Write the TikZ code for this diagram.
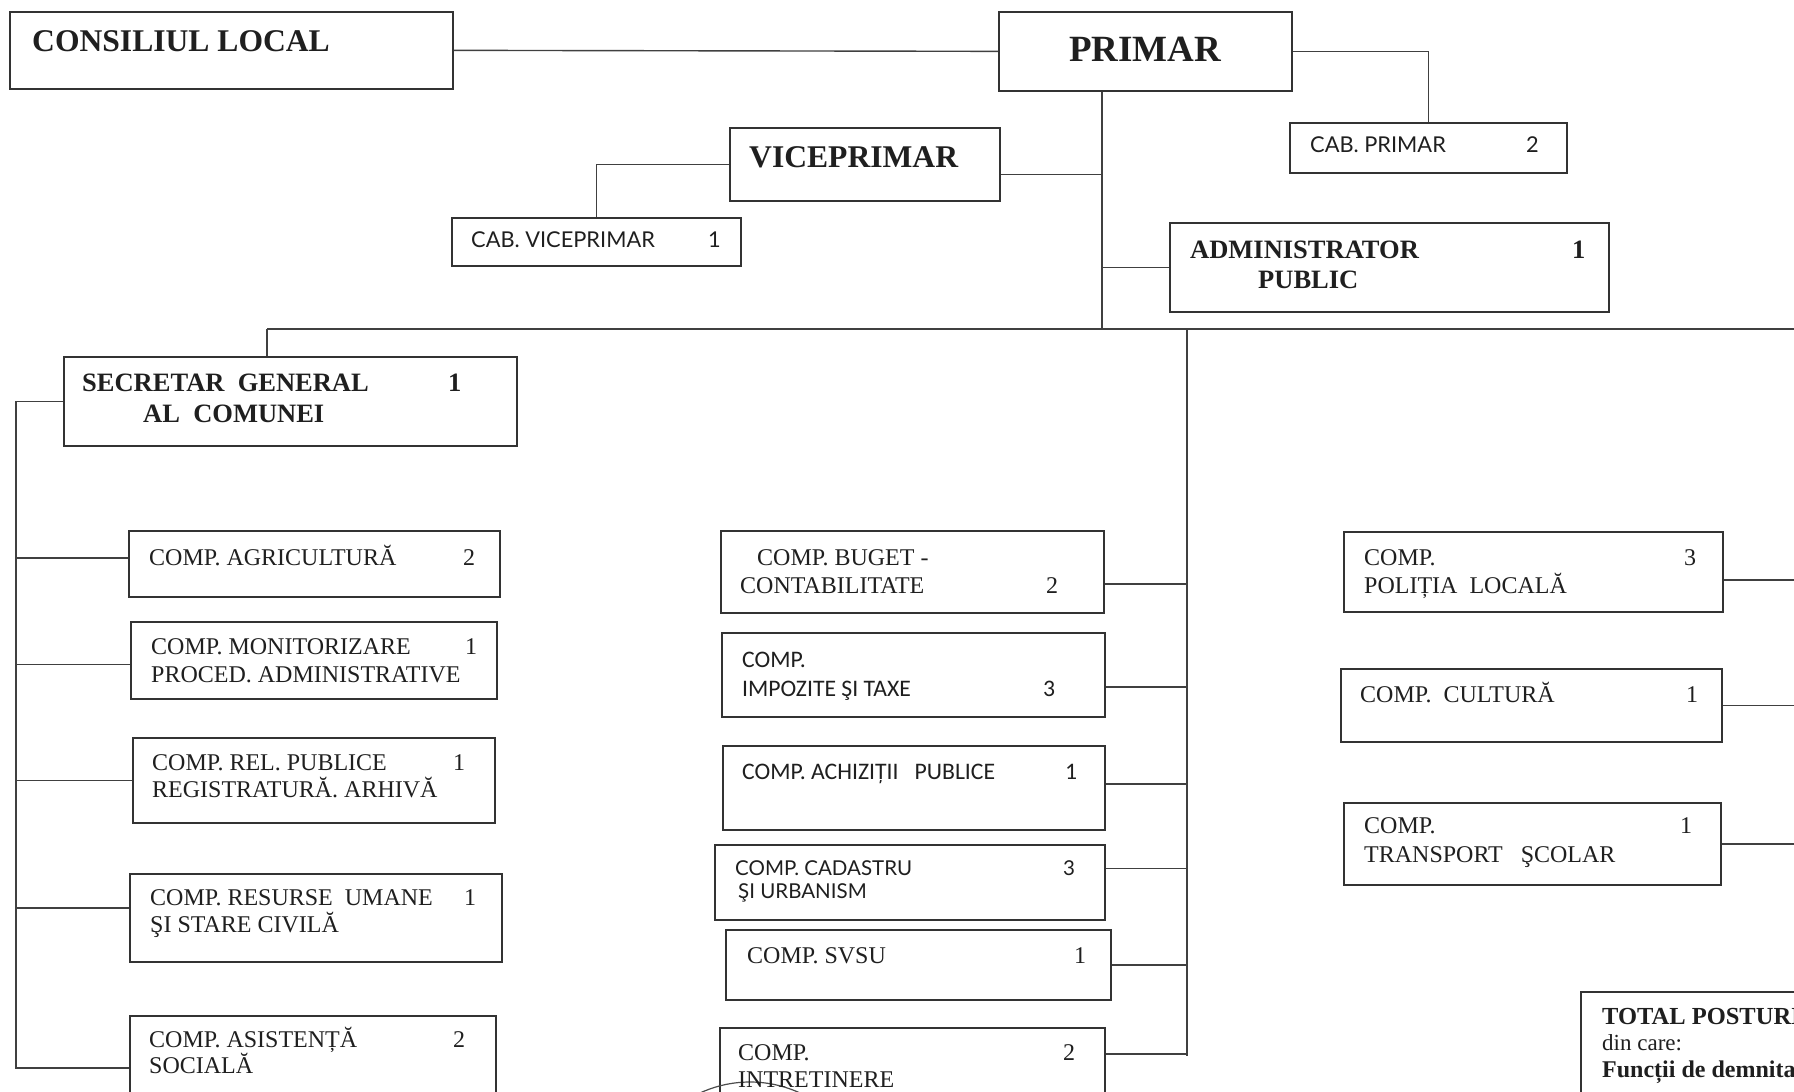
\documentclass[tikz,border=0pt]{standalone}
\usepackage{fontspec}
\setmainfont{Liberation Serif}
\newfontfamily\cabfont{Lato}
\newfontfamily\calfont{Carlito}
\begin{document}
\begin{tikzpicture}[x=1pt,y=-1pt]
\tikzset{
 box/.style={draw=black!80, line width=1.7pt, inner sep=0pt, anchor=north west},
 conn/.style={draw=black!75, line width=1.4pt},
 txt/.style={anchor=base west, inner sep=0pt, text=black!88},
 big/.style={font=\bfseries\fontsize{31.6}{31.6}\selectfont},
 huge/.style={font=\bfseries\fontsize{37}{37}\selectfont},
 mid/.style={font=\bfseries\fontsize{26.5}{26.5}\selectfont},
 sm/.style={font=\fontsize{24}{24}\selectfont},
 cab/.style={font=\cabfont\fontsize{21.8}{21.8}\selectfont},
 cad/.style={font=\cabfont\fontsize{20.5}{20.5}\selectfont},
 cal/.style={font=\calfont\fontsize{23.7}{23.7}\selectfont},
 tot/.style={font=\bfseries\fontsize{24.5}{24.5}\selectfont},
 totr/.style={font=\fontsize{23}{23}\selectfont},
 totb/.style={font=\bfseries\fontsize{24}{24}\selectfont},
}
\useasboundingbox (0,0) rectangle (1794,1092);
\fill[white] (0,0) rectangle (1794,1092);
\clip (0,0) rectangle (1794,1092);

% ---------- boxes ----------
\node[box, minimum width=443, minimum height=77] (cons) at (9,11) {};
\node[box, minimum width=293, minimum height=79] (primar) at (998,11) {};
\node[box, minimum width=277, minimum height=50] (cabp) at (1289,122) {};
\node[box, minimum width=270, minimum height=73] (vice) at (729,127) {};
\node[box, minimum width=289, minimum height=48] (cabv) at (451,217) {};
\node[box, minimum width=439, minimum height=89] (adm) at (1169,222) {};
\node[box, minimum width=453, minimum height=89] (sec) at (63,356) {};

\node[box, minimum width=371, minimum height=66] (agr) at (128,530) {};
\node[box, minimum width=366, minimum height=77] (mon) at (130,621) {};
\node[box, minimum width=362, minimum height=85] (rel) at (132,737) {};
\node[box, minimum width=372, minimum height=88] (res) at (129,873) {};
\node[box, minimum width=366, minimum height=120] (asis) at (129,1015) {};

\node[box, minimum width=383, minimum height=82] (bug) at (720,530) {};
\node[box, minimum width=383, minimum height=84] (imp) at (721,632) {};
\node[box, minimum width=382, minimum height=84] (ach) at (722,745) {};
\node[box, minimum width=390, minimum height=75] (cad) at (714,844) {};
\node[box, minimum width=385, minimum height=70] (svsu) at (725,929) {};
\node[box, minimum width=385, minimum height=120] (intr) at (719,1027) {};

\node[box, minimum width=379, minimum height=80] (pol) at (1343,531) {};
\node[box, minimum width=381, minimum height=73] (cult) at (1340,668) {};
\node[box, minimum width=377, minimum height=82] (trans) at (1343,802) {};

\node[box, minimum width=300, minimum height=200] (total) at (1580,991) {};

% stamp arc
\draw[black!70, line width=1.2pt] (750,1201) circle[radius=119];

% ---------- texts ----------
\node[txt, big] (tcons) at (32,51) {CONSILIUL LOCAL};
\node[txt, huge] (tprim) at (1069,61) {PRIMAR};
\node[txt, cab] (tcabp) at (1310,152) {CAB. PRIMAR};
\node[txt, cab] (ncabp) at (1526,152) {2};
\node[txt, big] (tvice) at (749,167) {VICEPRIMAR};
\node[txt, cab] (tcabv) at (471,247) {CAB. VICEPRIMAR};
\node[txt, cab] (ncabv) at (708,247) {1};
\node[txt, mid] (tadm1) at (1190,258) {ADMINISTRATOR};
\node[txt, mid] (tadm2) at (1258,288) {PUBLIC};
\node[txt, mid] (nadm) at (1572,258) {1};
\node[txt, mid] (tsec1) at (82,391) {SECRETAR\ \ GENERAL};
\node[txt, mid] (tsec2) at (143,422) {AL\ \ COMUNEI};
\node[txt, mid] (nsec) at (448,391) {1};

\node[txt, sm] (tagr) at (149,565) {COMP. AGRICULTURĂ};
\node[txt, sm] (nagr) at (463,565) {2};
\node[txt, sm] (tmon1) at (151,654) {COMP. MONITORIZARE};
\node[txt, sm] (tmon2) at (151,682) {PROCED. ADMINISTRATIVE};
\node[txt, sm] (nmon) at (465,654) {1};
\node[txt, sm] (trel1) at (152,770) {COMP. REL. PUBLICE};
\node[txt, sm] (trel2) at (152,797) {REGISTRATURĂ. ARHIVĂ};
\node[txt, sm] (nrel) at (453,770) {1};
\node[txt, sm] (tres1) at (150,905) {COMP. RESURSE\ \ UMANE};
\node[txt, sm] (tres2) at (150,932) {ŞI STARE CIVILĂ};
\node[txt, sm] (nres) at (464,905) {1};
\node[txt, sm] (tasis1) at (149,1047) {COMP. ASISTENȚĂ};
\node[txt, sm] (tasis2) at (149,1073) {SOCIALĂ};
\node[txt, sm] (nasis) at (453,1047) {2};

\node[txt, sm] (tbug1) at (757,565) {COMP. BUGET -};
\node[txt, sm] (tbug2) at (740,593) {CONTABILITATE};
\node[txt, sm] (nbug) at (1046,593) {2};
\node[txt, cal] (timp1) at (742,667) {COMP.};
\node[txt, cal] (timp2) at (742,696) {IMPOZITE ŞI TAXE};
\node[txt, cal] (nimp) at (1043,696) {3};
\node[txt, cal] (tach) at (742,779) {COMP. ACHIZIȚII\ \ \ PUBLICE};
\node[txt, cal] (nach) at (1065,779) {1};
\node[txt, cad] (tcad1) at (735,875) {COMP. CADASTRU};
\node[txt, cad] (tcad2) at (738,898) {ŞI URBANISM};
\node[txt, cad] (ncad) at (1063,875) {3};
\node[txt, sm] (tsvsu) at (747,963) {COMP. SVSU};
\node[txt, sm] (nsvsu) at (1074,963) {1};
\node[txt, sm] (tintr1) at (738,1060) {COMP.};
\node[txt, sm] (tintr2) at (738,1087) {INTRETINERE};
\node[txt, sm] (nintr) at (1063,1060) {2};

\node[txt, sm] (tpol1) at (1364,565) {COMP.};
\node[txt, sm] (tpol2) at (1364,593) {POLIȚIA\ \ LOCALĂ};
\node[txt, sm] (npol) at (1684,565) {3};
\node[txt, sm] (tcult) at (1360,702) {COMP.\ \ CULTURĂ};
\node[txt, sm] (ncult) at (1686,702) {1};
\node[txt, sm] (ttr1) at (1364,833) {COMP.};
\node[txt, sm] (ttr2) at (1364,862) {TRANSPORT\ \ \ ŞCOLAR};
\node[txt, sm] (ntr) at (1680,833) {1};

\node[txt, tot] (ttot1) at (1602,1024) {TOTAL POSTURI};
\node[txt, totr] (ttot2) at (1602,1050) {din care:};
\node[txt, totb] (ttot3) at (1602,1077) {Funcții de demnitate};

% ---------- coordinates ----------
\coordinate (pv) at ([xshift=-43.5pt]primar.south);
\coordinate (hl) at (267,329);
\coordinate (hr) at (1800,329);
\coordinate (ltop) at (16,400.5);
\coordinate (lbot) at (16,1068);
\coordinate (mtop) at (1187,329);
\coordinate (mbot) at (1187,1056);
\coordinate (rbus) at (1800,329);

% ---------- connectors ----------
\draw[conn] (cons.east) -- (primar.west);
\draw[conn] (primar.east) -| (cabp.north);
\draw[conn] (pv) -- (pv |- hl);
\draw[conn] ([yshift=-10pt]vice.east) -- ([yshift=-10pt]vice.east -| pv);
\draw[conn] (vice.west) -| (cabv.north);
\draw[conn] (adm.west) -- (adm.west -| pv);
\draw[conn] (hl) -- (hr);
\draw[conn] (hl) -- (hl |- sec.north);

% left column
\draw[conn] (sec.west) -- (sec.west -| ltop) -- (lbot) -- (lbot -| asis.west);
\draw[conn] ([yshift=6pt]agr.west) -- ([yshift=6pt]agr.west -| ltop);
\draw[conn] ([yshift=-4pt]mon.west) -- ([yshift=-4pt]mon.west -| ltop);
\draw[conn] (rel.west) -- (rel.west -| ltop);
\draw[conn] ([yshift=10pt]res.west) -- ([yshift=10pt]res.west -| ltop);

% middle column
\draw[conn] (mtop) -- (mbot);
\draw[conn] ([yshift=-12pt]bug.east) -- ([yshift=-12pt]bug.east -| mtop);
\draw[conn] ([yshift=-12pt]imp.east) -- ([yshift=-12pt]imp.east -| mtop);
\draw[conn] ([yshift=4pt]ach.east) -- ([yshift=4pt]ach.east -| mtop);
\draw[conn] ([yshift=14pt]cad.east) -- ([yshift=14pt]cad.east -| mtop);
\draw[conn] (svsu.east) -- (svsu.east -| mtop);
\draw[conn] ([yshift=-27pt]intr.north east) -- ([yshift=-27pt]intr.north east -| mtop);

% right column
\draw[conn] ([yshift=-8pt]pol.east) -- ([yshift=-8pt]pol.east -| rbus);
\draw[conn] (cult.east) -- (cult.east -| rbus);
\draw[conn] (trans.east) -- (trans.east -| rbus);
\end{tikzpicture}
\end{document}
